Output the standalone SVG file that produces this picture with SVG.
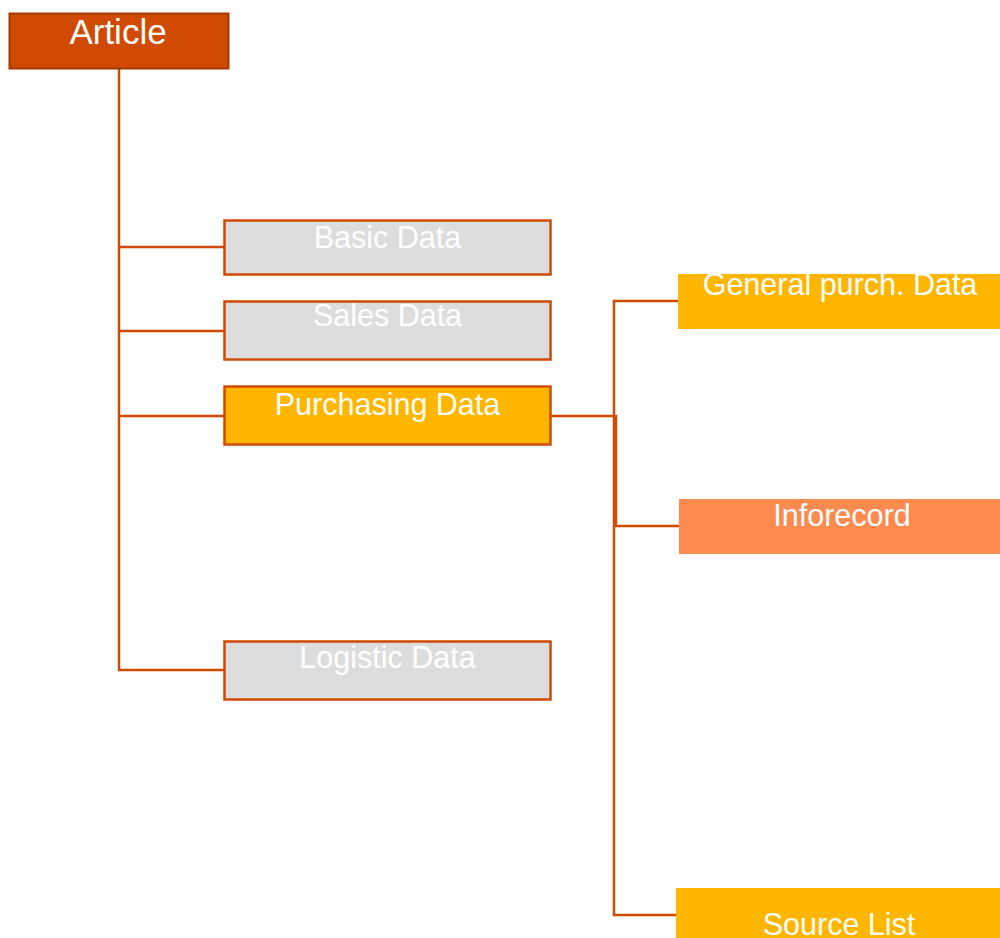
<svg xmlns="http://www.w3.org/2000/svg" width="1000" height="938" viewBox="0 0 1000 938">
  <style>
    .lbl { font-family: "Liberation Sans", Arial, sans-serif; fill: #ffffff; text-anchor: middle; font-size: 30.5px; }
    .conn { stroke: #D04A02; stroke-width: 2.5; fill: none; }
    .gray { fill: #DDDDDD; stroke: #D04A02; stroke-width: 2.5; }
    .amber { fill: #FFB600; }
  </style>
  <rect width="1000" height="938" fill="#ffffff"/>

  <g id="connectors">
    <polyline class="conn" points="119,69 119,670 224,670"/>
    <line class="conn" x1="119" y1="247" x2="224" y2="247"/>
    <line class="conn" x1="119" y1="331" x2="224" y2="331"/>
    <line class="conn" x1="119" y1="416" x2="224" y2="416"/>
    <polyline class="conn" points="551,416 614,416"/>
    <polyline class="conn" points="678,301 614,301 614,915 676,915"/>
    <polyline class="conn" points="614,416 616,416 616,526 679,526"/>
  </g>

  <g id="article">
    <rect x="9.5" y="13.5" width="219" height="55" fill="#D04A02" stroke="#A33A00" stroke-width="2"/>
    <text class="lbl" x="118" y="44" style="font-size:35px">Article</text>
  </g>

  <g id="basic-data">
    <rect class="gray" x="224.5" y="220.5" width="326" height="54"/>
    <text class="lbl" x="387.5" y="248">Basic Data</text>
  </g>

  <g id="sales-data">
    <rect class="gray" x="224.5" y="301.5" width="326" height="58"/>
    <text class="lbl" x="387.5" y="326">Sales Data</text>
  </g>

  <g id="purchasing-data">
    <rect x="224.5" y="386.5" width="326" height="58" fill="#FFB600" stroke="#D04A02" stroke-width="2.5"/>
    <text class="lbl" x="387.5" y="415">Purchasing Data</text>
  </g>

  <g id="logistic-data">
    <rect class="gray" x="224.5" y="641.5" width="326" height="58"/>
    <text class="lbl" x="387.5" y="668">Logistic Data</text>
  </g>

  <g id="general-purch-data">
    <rect class="amber" x="678" y="274" width="326" height="55"/>
    <text class="lbl" x="840" y="295">General purch. Data</text>
  </g>

  <g id="inforecord">
    <rect x="679" y="499" width="326" height="55" fill="#FD8A4F"/>
    <text class="lbl" x="842" y="526">Inforecord</text>
  </g>

  <g id="source-list">
    <rect class="amber" x="676" y="888" width="330" height="55"/>
    <text class="lbl" x="839" y="935">Source List</text>
  </g>
</svg>
